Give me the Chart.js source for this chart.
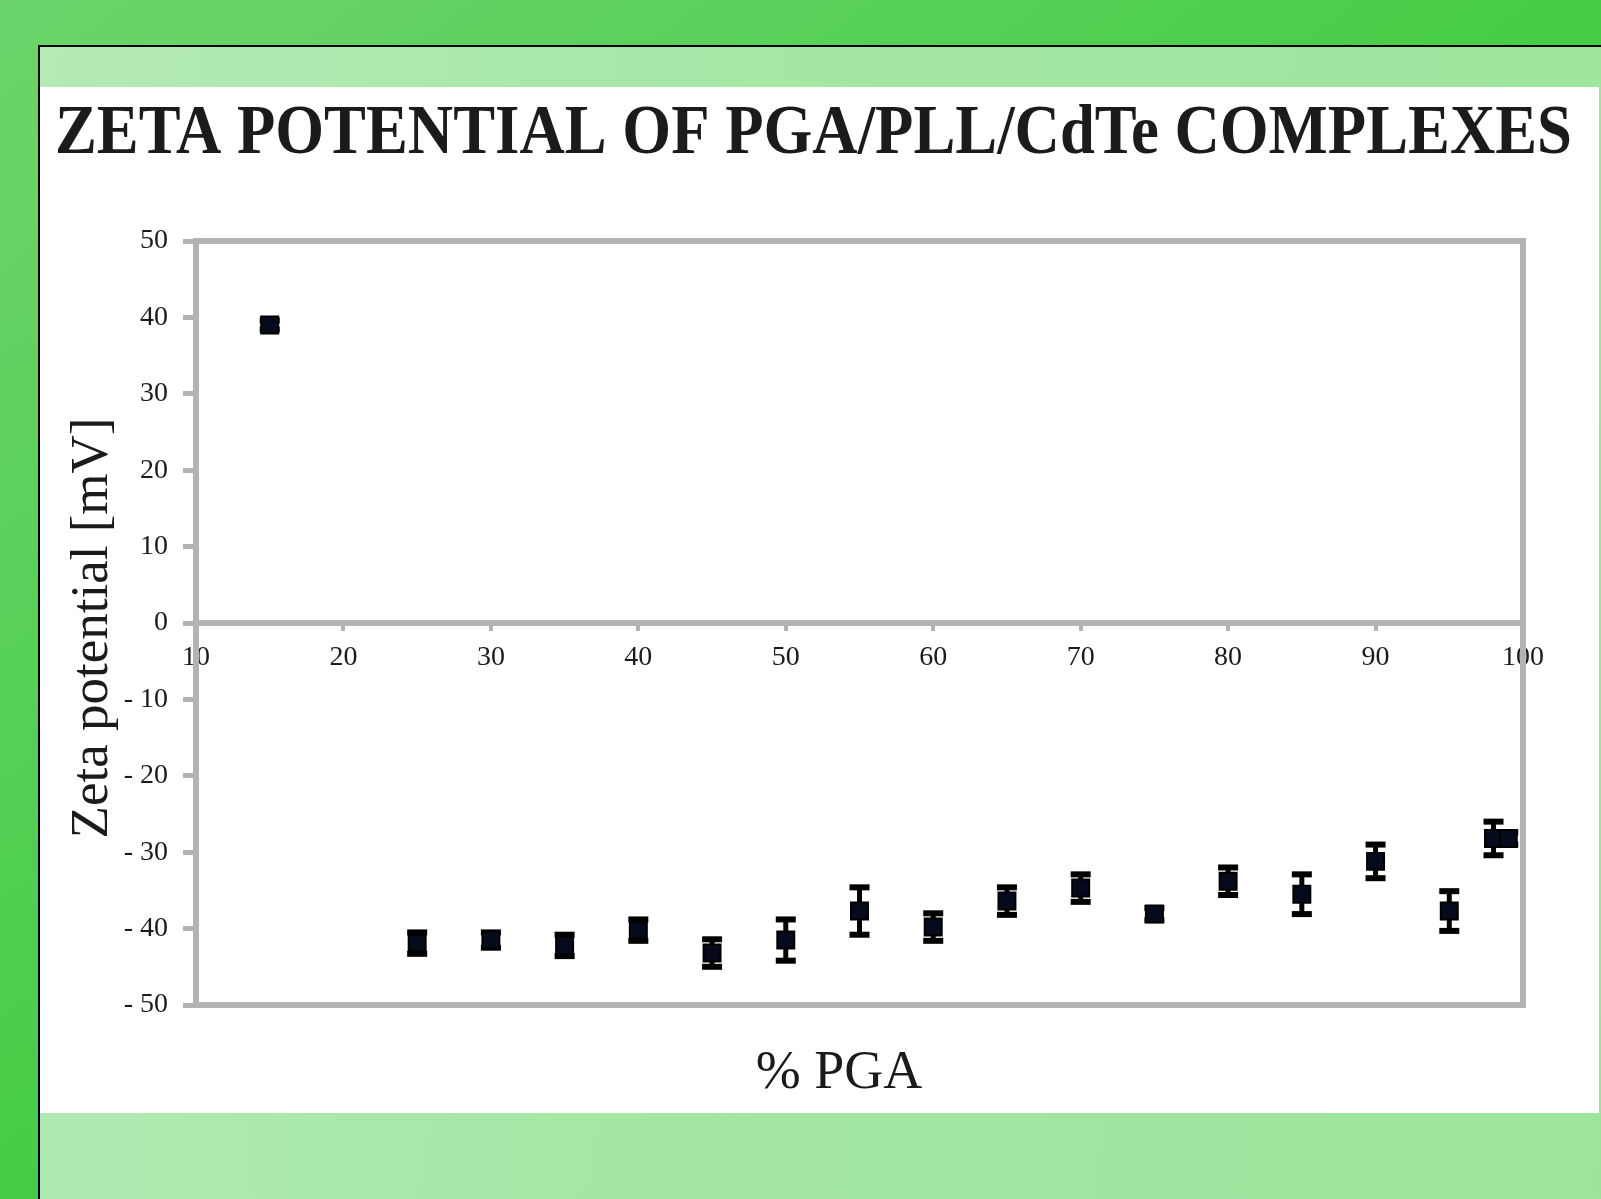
<!DOCTYPE html>
<html>
<head>
<meta charset="utf-8">
<script src="https://cdn.jsdelivr.net/npm/chart.js@4.4.1/dist/chart.umd.min.js"></script>
<style>
  html, body { margin: 0; padding: 0; }
  body {
    width: 1601px; height: 1199px; overflow: hidden; position: relative;
    background: linear-gradient(to bottom right, #6dd46d 0%, #46cd46 50%, #2ec92e 100%);
  }
  #frame {
    position: absolute; left: 38px; top: 45px; width: 1600px; height: 1200px;
    border-left: 2px solid #000; border-top: 2px solid #000;
    background: linear-gradient(100deg, #b4eab4 0%, #a2e6a2 50%, #9de59d 100%);
  }
  #panel { position: absolute; left: 40px; top: 87px; width: 1559px; height: 1026px; background: #fff; }
  #wrap { position: absolute; left: 0; top: 0; width: 1601px; height: 1199px; }
</style>
</head>
<body>
<div id="frame"></div>
<div id="panel"></div>
<div id="wrap"><canvas id="chart" width="1601" height="1199"></canvas></div>
<script>
// values
const pgaPercent = [15, 25, 30, 35, 40, 45, 50, 55, 60, 65, 70, 75, 80, 85, 90, 95, 98, 99];
const zetaMean = [39.0, -41.9, -41.5, -42.2, -40.2, -43.2, -41.5, -37.7, -39.8, -36.4, -34.7, -38.1, -33.8, -35.5, -31.2, -37.7, -28.2, -28.2];
const zetaErr = [0.6, 1.4, 1.0, 1.4, 1.4, 1.8, 2.7, 3.1, 1.8, 1.8, 1.8, 0.8, 1.8, 2.6, 2.2, 2.6, 2.2, 0.8];
const xTickValues = [10, 20, 30, 40, 50, 60, 70, 80, 90, 100];
const yTickValues = [-50, -40, -30, -20, -10, 0, 10, 20, 30, 40, 50];

const chartTitle = 'ZETA POTENTIAL OF PGA/PLL/CdTe COMPLEXES';
const xTitle = '% PGA';
const yTitle = 'Zeta potential [mV]';

const serif = '"Liberation Serif", "Times New Roman", serif';
const axisGray = '#b3b3b3';
const textColor = '#1b1b1b';

// gray box round the plot area
const plotFrame = {
  id: 'plotFrame',
  beforeDatasetsDraw(chart) {
    const { ctx, chartArea: a } = chart;
    ctx.save();
    ctx.strokeStyle = axisGray;
    ctx.lineWidth = 6;
    ctx.strokeRect(a.left, a.top, a.right - a.left, a.bottom - a.top);
    ctx.restore();
  }
};

// error bars with caps, drawn through the chart scales
const errorBars = {
  id: 'errorBars',
  beforeDatasetsDraw(chart) {
    const { ctx, scales: { x, y } } = chart;
    ctx.save();
    ctx.fillStyle = '#000';
    pgaPercent.forEach((v, i) => {
      const px = x.getPixelForValue(v);
      const top = y.getPixelForValue(zetaMean[i] + zetaErr[i]);
      const bot = y.getPixelForValue(zetaMean[i] - zetaErr[i]);
      ctx.fillRect(px - 2.5, top, 5, bot - top);
      ctx.fillRect(px - 10, top - 3, 20, 6);
      ctx.fillRect(px - 10, bot - 3, 20, 6);
    });
    ctx.restore();
  }
};

// page title and axis titles
const texts = {
  id: 'texts',
  afterDraw(chart) {
    const ctx = chart.ctx;
    ctx.save();
    ctx.fillStyle = textColor;

    ctx.font = 'bold 70px ' + serif;
    ctx.textAlign = 'left';
    ctx.textBaseline = 'alphabetic';
    const w = ctx.measureText(chartTitle).width;
    const target = 1517;
    ctx.save();
    ctx.translate(55, 153);
    ctx.scale(target / w, 1);
    ctx.fillText(chartTitle, 0, 0);
    ctx.restore();

    ctx.font = '54px ' + serif;
    ctx.textAlign = 'center';
    ctx.fillText(xTitle, 839, 1088);

    ctx.save();
    ctx.translate(107, 628);
    ctx.rotate(-Math.PI / 2);
    ctx.font = '53px ' + serif;
    ctx.fillText(yTitle, 0, 0);
    ctx.restore();

    ctx.restore();
  }
};

new Chart(document.getElementById('chart'), {
  type: 'scatter',
  data: {
    datasets: [{
      label: 'Zeta potential',
      data: pgaPercent.map((x, i) => ({ x: x, y: zetaMean[i] })),
      pointStyle: 'rect',
      pointRadius: 12,
      pointBorderWidth: 2,
      backgroundColor: '#050b1c',
      borderColor: '#000',
      clip: false
    }]
  },
  options: {
    responsive: false,
    animation: false,
    layout: { padding: { left: 0, right: 78, top: 241, bottom: 194 } },
    plugins: { legend: { display: false }, tooltip: { enabled: false }, title: { display: false } },
    scales: {
      x: {
        type: 'linear',
        position: { y: 0 },
        min: 10, max: 100,
        afterBuildTicks: s => { s.ticks = xTickValues.map(v => ({ value: v })); },
        border: { display: true, color: axisGray, width: 6 },
        grid: { display: true, drawOnChartArea: false, drawTicks: true, tickLength: 5, lineWidth: 4, color: axisGray },
        ticks: { font: { family: serif, size: 28 }, color: textColor, padding: 13, maxRotation: 0, autoSkip: false }
      },
      y: {
        type: 'linear',
        position: 'left',
        min: -50, max: 50,
        afterBuildTicks: s => { s.ticks = yTickValues.map(v => ({ value: v })); },
        afterFit: s => { s.width = 196; },
        border: { display: true, color: axisGray, width: 6 },
        grid: { display: true, drawOnChartArea: false, drawTicks: true, tickLength: 13, lineWidth: 5, color: axisGray },
        ticks: {
          font: { family: serif, size: 28 }, color: textColor, padding: 15, autoSkip: false,
          callback: v => (v < 0 ? '- ' + Math.abs(v) : String(v))
        }
      }
    }
  },
  plugins: [plotFrame, errorBars, texts]
});
</script>
</body>
</html>
